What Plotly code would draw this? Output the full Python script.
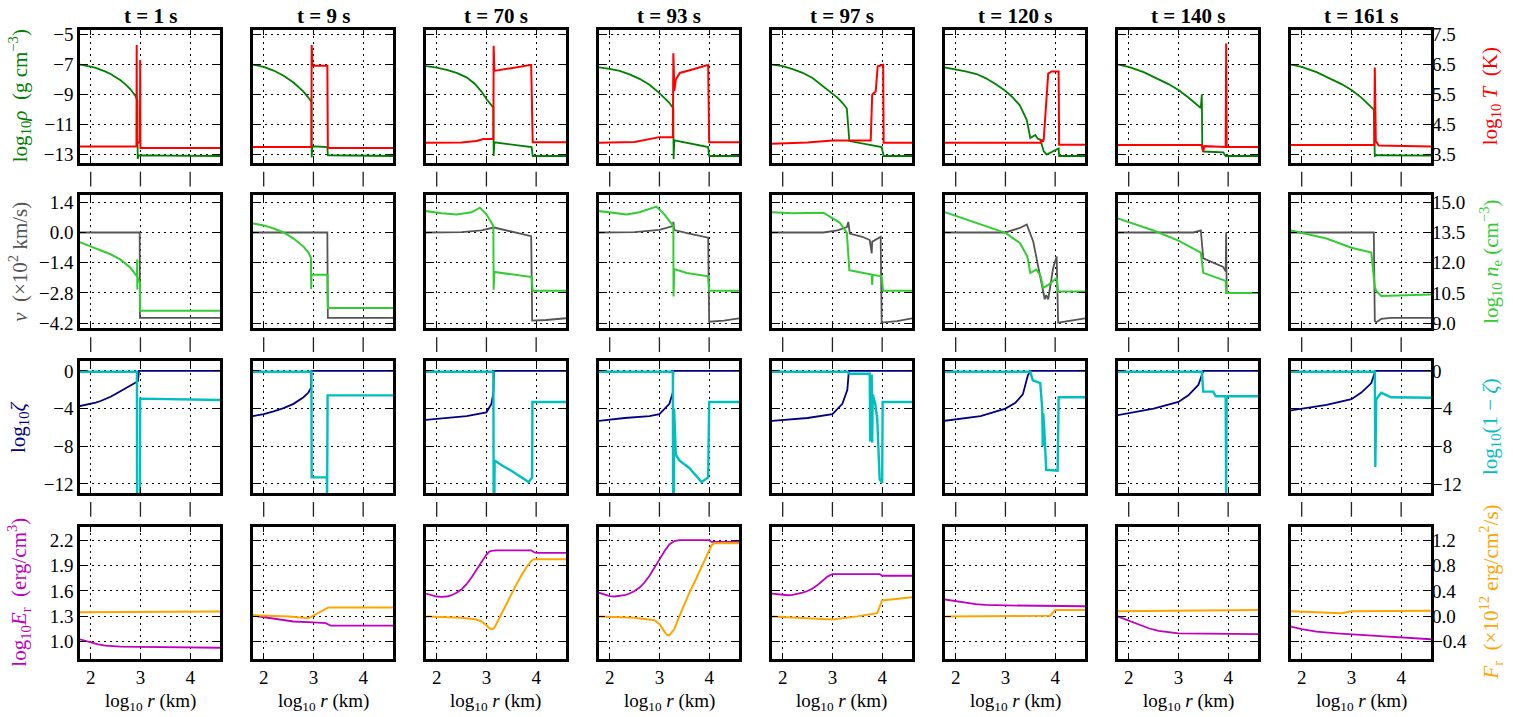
import plotly.graph_objects as go

# ---------------- data ----------------
times = ["1", "9", "70", "93", "97", "120", "140", "161"]

x_ticks = [2, 3, 4]
x_ticktext = ["2", "3", "4"]

rho_tv = [-5, -7, -9, -11, -13]
rho_tt = ["−5", "−7", "−9", "−11", "−13"]
T_tv = [3.5, 4.5, 5.5, 6.5, 7.5]
T_tt = ["3.5", "4.5", "5.5", "6.5", "7.5"]
v_tv = [1.4, 0.0, -1.4, -2.8, -4.2]
v_tt = ["1.4", "0.0", "−1.4", "−2.8", "−4.2"]
ne_tv = [9.0, 10.5, 12.0, 13.5, 15.0]
ne_tt = ["9.0", "10.5", "12.0", "13.5", "15.0"]
z_tv = [0, -4, -8, -12]
z_tt = ["0", "−4", "−8", "−12"]
E_tv = [1.0, 1.3, 1.6, 1.9, 2.2]
E_tt = ["1.0", "1.3", "1.6", "1.9", "2.2"]
F_tv = [-0.4, 0.0, 0.4, 0.8, 1.2]
F_tt = ["−0.4", "0.0", "0.4", "0.8", "1.2"]

# density log10 rho
rho_x = [
    [1.78, 1.9, 2.0, 2.1, 2.2, 2.3, 2.4, 2.5, 2.6, 2.7, 2.8, 2.9, 2.94, 2.945, 2.96, 3.5, 4.6],
    [1.78, 2.0, 2.2, 2.4, 2.6, 2.8, 2.9, 2.96, 2.965, 2.98, 3.28, 3.29, 4.6],
    [1.78, 2.0, 2.2, 2.4, 2.6, 2.77, 2.9, 3.0, 3.14, 3.145, 3.16, 3.5, 3.91, 3.93, 4.6],
    [1.78, 2.0, 2.2, 2.4, 2.6, 2.8, 3.0, 3.1, 3.2, 3.28, 3.285, 3.3, 3.6, 3.98, 4.0, 4.6],
    [1.78, 2.0, 2.2, 2.4, 2.6, 2.82, 3.0, 3.1, 3.2, 3.29, 3.34, 3.6, 3.8, 3.99, 4.03, 4.6],
    [1.78, 2.0, 2.2, 2.42, 2.6, 2.8, 2.99, 3.15, 3.29, 3.43, 3.5, 3.6, 3.65, 3.7, 3.77, 3.83, 4.07, 4.08, 4.6],
    [1.78, 2.0, 2.3, 2.6, 2.8, 3.0, 3.2, 3.45, 3.47, 3.48, 3.5, 3.9, 3.95, 4.6],
    [1.78, 2.0, 2.3, 2.6, 2.8, 3.0, 3.2, 3.45, 3.47, 3.5, 4.6],
]
rho_y = [
    [-7.0, -7.06, -7.13, -7.22, -7.33, -7.47, -7.63, -7.82, -8.05, -8.32, -8.65, -9.1, -9.4, -13.3, -13.05, -13.08, -13.1],
    [-7.0, -7.15, -7.4, -7.75, -8.2, -8.8, -9.2, -9.5, -13.2, -12.45, -12.5, -13.05, -13.1],
    [-7.1, -7.2, -7.35, -7.55, -7.85, -8.29, -8.8, -9.3, -9.87, -13.1, -12.19, -12.33, -12.5, -13.1, -13.1],
    [-7.19, -7.28, -7.42, -7.65, -7.95, -8.35, -8.9, -9.2, -9.55, -9.93, -13.3, -12.06, -12.25, -12.5, -13.1, -13.1],
    [-7.0, -7.1, -7.3, -7.55, -7.9, -8.5, -8.95, -9.2, -9.55, -9.93, -12.1, -12.25, -12.4, -12.5, -13.1, -13.1],
    [-7.19, -7.3, -7.45, -7.63, -7.9, -8.3, -8.73, -9.2, -9.72, -10.7, -11.9, -11.7, -11.95, -12.0, -12.78, -13.0, -12.6, -13.1, -13.1],
    [-7.0, -7.15, -7.5, -7.95, -8.3, -8.7, -9.2, -9.9, -9.0, -12.6, -12.8, -12.85, -13.1, -13.1],
    [-7.0, -7.15, -7.5, -7.95, -8.3, -8.7, -9.2, -10.0, -13.1, -13.05, -13.07],
]

# temperature log10 T
T_x = [
    [1.78, 2.92, 2.925, 2.93, 2.99, 2.995, 3.0, 4.6],
    [1.78, 2.96, 2.965, 2.98, 3.28, 3.29, 4.6],
    [1.78, 2.5, 2.8, 2.94, 3.14, 3.145, 3.16, 3.9, 3.93, 4.6],
    [1.78, 2.5, 3.0, 3.27, 3.28, 3.3, 3.33, 3.41, 3.7, 3.98, 4.0, 4.6],
    [1.78, 2.5, 3.0, 3.33, 3.77, 3.8, 3.87, 3.91, 4.02, 4.03, 4.6],
    [1.78, 3.71, 3.73, 3.75, 3.77, 3.83, 3.85, 3.86, 3.93, 4.07, 4.08, 4.6],
    [1.78, 3.47, 3.5, 3.52, 3.95, 3.96, 3.97, 4.6],
    [1.78, 3.46, 3.47, 3.49, 3.55, 4.6],
]
T_y = [
    [3.77, 3.77, 7.15, 3.9, 3.9, 6.65, 3.72, 3.72],
    [3.75, 3.75, 7.15, 6.46, 6.46, 3.72, 3.72],
    [3.89, 3.9, 3.95, 4.02, 4.02, 7.13, 6.29, 6.49, 3.91, 3.91],
    [3.89, 3.92, 4.08, 4.08, 6.88, 5.62, 6.0, 6.22, 6.35, 6.49, 3.91, 3.91],
    [3.86, 3.9, 3.97, 3.98, 3.97, 5.5, 5.6, 6.44, 6.49, 3.89, 3.89],
    [3.89, 3.89, 4.0, 3.92, 4.0, 5.45, 5.6, 6.2, 6.27, 6.27, 3.83, 3.83],
    [3.82, 3.82, 3.6, 3.78, 3.75, 7.2, 3.75, 3.75],
    [3.82, 3.82, 6.4, 3.95, 3.8, 3.77],
]

# velocity (x 10^2 km/s)
v_x = [
    [1.78, 2.985, 2.99, 4.6],
    [1.78, 2.9, 3.28, 3.29, 4.6],
    [1.78, 2.5, 2.9, 3.15, 3.9, 3.92, 4.2, 4.6],
    [1.78, 2.5, 3.0, 3.27, 3.28, 3.3, 3.6, 3.98, 4.0, 4.3, 4.6],
    [1.78, 2.82, 3.1, 3.29, 3.32, 3.35, 3.6, 3.75, 3.79, 3.8, 3.82, 3.97, 3.99, 4.3, 4.6],
    [1.78, 3.0, 3.29, 3.43, 3.56, 3.7, 3.79, 3.82, 3.86, 3.96, 4.03, 4.06, 4.6],
    [1.78, 3.3, 3.45, 3.47, 3.5, 3.9, 3.95, 3.96, 3.97, 4.6],
    [1.78, 3.45, 3.47, 3.5, 3.6, 3.8, 4.6],
]
v_y = [
    [0.0, 0.0, -3.95, -3.95],
    [0.0, 0.0, 0.0, -3.95, -3.95],
    [0.0, 0.02, 0.1, 0.23, -0.17, -4.08, -4.05, -3.97],
    [0.0, 0.02, 0.12, 0.3, 0.49, 0.11, -0.05, -0.24, -4.13, -4.08, -3.97],
    [0.0, 0.0, 0.1, 0.25, 0.49, -0.05, -0.2, -0.35, -0.97, -0.42, -0.4, -0.2, -4.17, -4.1, -3.97],
    [0.0, 0.0, 0.21, 0.37, -0.43, -1.95, -3.09, -2.9, -3.09, -1.64, -1.11, -4.17, -3.97],
    [0.0, 0.0, 0.1, -0.5, -1.2, -1.6, -1.8, 0.0, -2.8, -2.8],
    [0.0, 0.0, -4.1, -4.15, -4.0, -3.95, -3.95],
]

# electron density log10 n_e
ne_x = [
    [1.78, 2.0, 2.2, 2.4, 2.6, 2.8, 2.93, 2.935, 2.937, 2.94, 2.99, 2.995, 4.6],
    [1.78, 2.0, 2.2, 2.4, 2.6, 2.8, 2.9, 2.95, 2.955, 2.96, 2.98, 3.28, 3.29, 4.6],
    [1.78, 2.1, 2.4, 2.7, 2.87, 3.0, 3.14, 3.145, 3.16, 3.5, 3.91, 3.93, 4.6],
    [1.78, 2.34, 2.6, 2.94, 3.1, 3.28, 3.283, 3.3, 3.55, 3.98, 4.0, 4.6],
    [1.78, 2.2, 2.82, 3.15, 3.29, 3.34, 3.6, 3.79, 3.8, 3.81, 3.99, 4.02, 4.6],
    [1.78, 2.42, 3.0, 3.29, 3.44, 3.5, 3.62, 3.7, 3.76, 3.86, 4.03, 4.06, 4.6],
    [1.78, 2.5, 3.0, 3.45, 3.5, 3.95, 3.96, 4.6],
    [1.78, 2.5, 3.0, 3.4, 3.47, 3.5, 3.6, 4.6],
]
ne_y = [
    [13.02, 12.8, 12.62, 12.42, 12.15, 11.75, 11.33, 12.16, 10.67, 11.3, 11.0, 9.62, 9.62],
    [13.95, 13.85, 13.7, 13.5, 13.2, 12.8, 12.5, 12.25, 10.7, 11.4, 11.4, 11.4, 9.75, 9.75],
    [14.56, 14.45, 14.39, 14.5, 14.73, 14.4, 13.82, 10.66, 11.54, 11.42, 11.29, 10.61, 10.61],
    [14.56, 14.39, 14.5, 14.78, 14.4, 13.82, 10.33, 11.69, 11.49, 11.33, 10.61, 10.61],
    [14.5, 14.45, 14.48, 13.98, 13.48, 11.63, 11.5, 11.41, 10.9, 11.4, 11.33, 10.61, 10.61],
    [14.51, 13.98, 13.48, 12.98, 12.32, 11.49, 11.66, 11.4, 10.75, 10.9, 11.24, 10.58, 10.58],
    [14.2, 13.6, 13.1, 12.5, 11.5, 11.1, 10.5, 10.5],
    [13.6, 13.2, 12.74, 12.5, 10.8, 10.6, 10.35, 10.42],
]

# ionisation log10 zeta
z_x = [
    [1.78, 1.9, 2.0, 2.1, 2.2, 2.3, 2.4, 2.5, 2.6, 2.7, 2.8, 2.9, 2.95, 2.96, 2.97, 4.6],
    [1.78, 2.0, 2.2, 2.4, 2.6, 2.8, 2.9, 2.95, 2.96, 4.6],
    [1.78, 2.2, 2.6, 3.0, 3.1, 3.14, 3.15, 4.6],
    [1.78, 2.3, 2.8, 3.0, 3.2, 3.27, 3.28, 4.6],
    [1.78, 2.5, 3.0, 3.2, 3.3, 3.33, 4.6],
    [1.78, 2.5, 3.0, 3.2, 3.35, 3.45, 3.5, 4.6],
    [1.78, 2.5, 3.0, 3.2, 3.4, 3.47, 3.5, 4.6],
    [1.78, 2.5, 3.0, 3.2, 3.4, 3.47, 3.48, 4.6],
]
z_y = [
    [-3.73, -3.62, -3.5, -3.36, -3.2, -3.0, -2.75, -2.45, -2.15, -1.85, -1.55, -1.25, -1.1, -0.6, 0.0, 0.0],
    [-4.8, -4.6, -4.3, -3.95, -3.5, -2.8, -2.3, -1.8, 0.0, 0.0],
    [-5.2, -5.0, -4.8, -4.4, -3.5, -2.3, 0.0, 0.0],
    [-5.3, -5.0, -4.8, -4.6, -3.5, -2.3, 0.0, 0.0],
    [-5.3, -5.0, -4.6, -3.5, -2.0, 0.0, 0.0],
    [-5.3, -4.8, -4.0, -3.4, -2.5, -0.5, 0.0, 0.0],
    [-4.7, -4.0, -3.3, -2.6, -1.5, -0.5, 0.0, 0.0],
    [-4.2, -3.6, -3.0, -2.3, -1.3, -0.3, 0.0, 0.0],
]

# log10(1 - zeta)
nz_x = [
    [1.78, 2.93, 2.932, 2.99, 2.995, 4.6],
    [1.78, 2.96, 2.965, 3.27, 3.275, 3.28, 3.285, 4.6],
    [1.78, 3.14, 3.145, 3.16, 3.165, 3.3, 3.5, 3.7, 3.85, 3.92, 3.925, 4.6],
    [1.78, 3.27, 3.275, 3.29, 3.295, 3.33, 3.4, 3.6, 3.85, 3.98, 4.0, 4.6],
    [1.78, 3.3, 3.35, 3.75, 3.76, 3.77, 3.79, 3.8, 3.81, 3.86, 3.9, 3.95, 4.0, 4.01, 4.6],
    [1.78, 3.5, 3.55, 3.7, 3.74, 3.75, 3.76, 3.78, 3.82, 4.05, 4.07, 4.6],
    [1.78, 3.47, 3.5, 3.7, 3.75, 3.95, 3.96, 3.97, 4.6],
    [1.78, 3.47, 3.48, 3.49, 3.5, 3.6, 3.8, 4.6],
]
nz_y = [
    [-0.1, -0.1, -13.5, -13.5, -2.95, -3.1],
    [-0.1, -0.1, -11.3, -11.3, -13.5, -2.6, -2.6, -2.6],
    [-0.1, -0.1, -13.5, -13.5, -9.5, -10.0, -10.6, -11.3, -11.8, -11.3, -3.3, -3.3],
    [-0.1, -0.1, -13.5, -13.5, -4.0, -8.9, -9.5, -10.3, -11.8, -11.3, -3.3, -3.3],
    [-0.1, -0.1, -0.3, -0.3, -7.5, -0.5, -0.5, -7.6, -2.5, -3.5, -5.0, -11.5, -11.9, -3.3, -3.3],
    [-0.1, -0.1, -1.0, -1.3, -4.0, -8.0, -4.5, -6.0, -10.5, -10.6, -2.8, -2.8],
    [-0.1, -0.1, -2.2, -2.2, -2.7, -2.7, -13.5, -2.7, -2.7],
    [-0.1, -0.1, -10.2, -3.7, -3.0, -2.33, -2.8, -2.86],
]

# radiation energy density log10 E_r
E_x = [
    [1.78, 1.9, 2.0, 2.15, 2.3, 2.45, 2.6, 3.0, 4.6],
    [1.78, 2.0, 2.2, 2.4, 2.6, 3.0, 3.25, 3.35, 4.6],
    [1.78, 1.9, 2.0, 2.1, 2.2, 2.3, 2.4, 2.5, 2.6, 2.7, 2.8, 2.9, 3.0, 3.05, 3.1, 3.2, 3.9, 3.95, 4.0, 4.6],
    [1.78, 1.9, 2.0, 2.1, 2.2, 2.3, 2.4, 2.5, 2.6, 2.7, 2.8, 2.9, 3.0, 3.1, 3.2, 3.3, 3.4, 4.0, 4.05, 4.6],
    [1.78, 1.9, 2.0, 2.1, 2.2, 2.3, 2.4, 2.5, 2.6, 2.7, 2.8, 2.9, 3.0, 3.1, 3.95, 4.0, 4.6],
    [1.78, 2.0, 2.2, 2.4, 2.6, 3.0, 4.6],
    [1.78, 2.0, 2.2, 2.4, 2.6, 3.0, 4.6],
    [1.78, 2.0, 2.3, 2.7, 3.5, 4.6],
]
E_y = [
    [1.03, 1.01, 0.99, 0.97, 0.955, 0.947, 0.943, 0.94, 0.93],
    [1.31, 1.29, 1.27, 1.25, 1.24, 1.23, 1.22, 1.19, 1.19],
    [1.57, 1.55, 1.535, 1.53, 1.535, 1.55, 1.58, 1.62, 1.68, 1.76, 1.85, 1.95, 2.03, 2.06, 2.075, 2.08, 2.08, 2.06, 2.05, 2.05],
    [1.58, 1.56, 1.54, 1.535, 1.54, 1.55, 1.57, 1.6, 1.64, 1.7, 1.78, 1.87, 1.97, 2.07, 2.15, 2.19, 2.2, 2.2, 2.18, 2.18],
    [1.57, 1.56, 1.55, 1.55, 1.555, 1.565, 1.58, 1.6, 1.63, 1.67, 1.72, 1.77, 1.8, 1.8, 1.8, 1.78, 1.78],
    [1.5, 1.48, 1.46, 1.445, 1.435, 1.43, 1.42],
    [1.3, 1.25, 1.2, 1.16, 1.13, 1.1, 1.09],
    [1.18, 1.15, 1.12, 1.1, 1.07, 1.03],
]

# radiation flux F_r (x 10^12 erg/cm^2/s)
F_x = [
    [1.78, 3.0, 4.6],
    [1.78, 2.5, 2.9, 3.1, 3.3, 4.6],
    [1.78, 2.5, 2.8, 2.9, 3.0, 3.05, 3.1, 3.15, 3.2, 3.3, 3.4, 3.5, 3.6, 3.7, 3.8, 3.9, 3.95, 4.0, 4.6],
    [1.78, 2.5, 2.9, 3.0, 3.1, 3.15, 3.2, 3.3, 3.4, 3.5, 3.6, 3.7, 3.8, 3.9, 4.0, 4.05, 4.1, 4.6],
    [1.78, 2.5, 3.0, 3.5, 3.9, 4.0, 4.6],
    [1.78, 3.0, 3.9, 4.0, 4.6],
    [1.78, 3.0, 4.6],
    [1.78, 2.8, 3.0, 4.6],
]
F_y = [
    [0.065, 0.065, 0.075],
    [0.02, 0.0, -0.03, 0.05, 0.14, 0.14],
    [0.0, -0.02, -0.05, -0.08, -0.14, -0.18, -0.2, -0.19, -0.12, 0.04, 0.2, 0.35, 0.5, 0.64, 0.77, 0.87, 0.9, 0.9, 0.9],
    [0.0, -0.02, -0.06, -0.12, -0.24, -0.29, -0.3, -0.2, 0.0, 0.2, 0.37, 0.53, 0.7, 0.88, 1.05, 1.12, 1.15, 1.15],
    [0.0, -0.03, -0.05, 0.0, 0.05, 0.25, 0.3],
    [0.0, 0.0, 0.01, 0.1, 0.1],
    [0.08, 0.09, 0.1],
    [0.08, 0.05, 0.08, 0.09],
]

# ---------------- styling / layout ----------------
W, H = 1513, 717
FONT = "Liberation Serif"
XR = [1.785, 4.6]
TICKSIZE = 19

rows = [
    dict(left=(rho_x, rho_y, "#008000"), right=(T_x, T_y, "#ff0000"),
         lr=[-13.55, -4.67], rr=[3.225, 7.665],
         ltv=rho_tv, ltt=rho_tt, rtv=T_tv, rtt=T_tt,
         ltitle="log<sub>10</sub><i>ρ</i>  (g cm<sup>−3</sup>)", lcol="#008000",
         rtitle="log<sub>10</sub> <i>T</i>  (K)", rcol="#ff0000",
         px=(25, 160)),
    dict(left=(v_x, v_y, "#555555"), right=(ne_x, ne_y, "#33cc33"),
         lr=[-4.44, 1.72], rr=[8.743, 15.343],
         ltv=v_tv, ltt=v_tt, rtv=ne_tv, rtt=ne_tt,
         ltitle="<i>v</i>  (×10<sup>2</sup> km/s)", lcol="#555555",
         rtitle="log<sub>10</sub> <i>n</i><sub>e</sub> (cm<sup>−3</sup>)", rcol="#33cc33",
         px=(193, 328)),
    dict(left=(z_x, z_y, "#000080"), right=(nz_x, nz_y, "#00bfbf"),
         lr=[-12.97, 1.05], rr=[-12.97, 1.05],
         ltv=z_tv, ltt=z_tt, rtv=z_tv, rtt=z_tt,
         ltitle="log<sub>10</sub><i>ζ</i>", lcol="#000080",
         rtitle="log<sub>10</sub>(1 − <i>ζ</i>)", rcol="#00bfbf",
         px=(361, 495)),
    dict(left=(E_x, E_y, "#bf00bf"), right=(F_x, F_y, "#ffa500"),
         lr=[0.80, 2.36], rr=[-0.667, 1.413],
         ltv=E_tv, ltt=E_tt, rtv=F_tv, rtt=F_tt,
         ltitle="log<sub>10</sub><i>E</i><sub>r</sub>  (erg/cm<sup>3</sup>)", lcol="#bf00bf",
         rtitle="<i>F</i><sub>r</sub>  (×10<sup>12</sup> erg/cm<sup>2</sup>/s)", rcol="#ffa500",
         px=(529, 663)),
]

layout = dict(
    width=W, height=H, autosize=False,
    margin=dict(l=0, r=0, t=0, b=0),
    plot_bgcolor="white", paper_bgcolor="white",
    showlegend=False,
    font=dict(family=FONT, size=TICKSIZE, color="black"),
)
traces = []
annotations = []
shapes = []

def ref(kind, n):
    return kind if n == 1 else f"{kind}{n}"

for r, R in enumerate(rows):
    top, bot = R["px"]
    ydom = [1 - bot / H, 1 - top / H]
    for c in range(8):
        k = r * 8 + c + 1
        ly, ry = 2 * k - 1, 2 * k
        xref, lyref, ryref = ref("x", k), ref("y", ly), ref("y", ry)
        x0 = (80 + 173 * c) / W
        x1 = (220 + 173 * c) / W
        last_row = (r == 3)
        layout["xaxis" if k == 1 else f"xaxis{k}"] = dict(
            domain=[x0, x1], anchor=lyref, range=XR,
            tickmode="array", tickvals=x_ticks, ticktext=x_ticktext,
            showticklabels=last_row,
            tickfont=dict(family=FONT, size=TICKSIZE, color="black"),
            ticks="inside", ticklen=6, tickwidth=1, tickcolor="black",
            showline=True, linewidth=2.5, linecolor="black", mirror="ticks",
            showgrid=True, gridcolor="black", gridwidth=1, griddash="2px,4px",
            zeroline=False, fixedrange=True,
        )
        layout["yaxis" if ly == 1 else f"yaxis{ly}"] = dict(
            domain=ydom, anchor=xref, range=R["lr"],
            tickmode="array", tickvals=R["ltv"], ticktext=R["ltt"],
            showticklabels=(c == 0), tickfont=dict(family=FONT, size=TICKSIZE),
            ticks="inside", ticklen=6, tickwidth=1, tickcolor="black",
            showline=True, linewidth=2.5, linecolor="black", mirror="ticks",
            showgrid=True, gridcolor="black", gridwidth=1, griddash="2px,4px",
            zeroline=False, fixedrange=True,
        )
        layout[f"yaxis{ry}"] = dict(
            overlaying=lyref, side="right", anchor=xref, range=R["rr"],
            tickmode="array", tickvals=R["rtv"], ticktext=R["rtt"],
            showticklabels=(c == 7), tickfont=dict(family=FONT, size=TICKSIZE),
            ticks="", showline=False, showgrid=False, zeroline=False, fixedrange=True,
        )
        lx, lyv, lcol = R["left"]
        rx, ryv, rcol = R["right"]
        traces.append(go.Scatter(x=lx[c], y=lyv[c], xaxis=xref, yaxis=lyref, mode="lines",
                                 line=dict(color=lcol, width=1.8), hoverinfo="skip"))
        traces.append(go.Scatter(x=rx[c], y=ryv[c], xaxis=xref, yaxis=ryref, mode="lines",
                                 line=dict(color=rcol, width=2.0 if r != 2 else 2.4), hoverinfo="skip"))
        if not last_row:
            # small separator marks between stacked rows, at the x tick positions
            for t in x_ticks:
                shapes.append(dict(type="line", xref=xref, yref="paper", x0=t, x1=t,
                                   y0=1 - (bot + 9) / H, y1=1 - (bot + 24) / H,
                                   line=dict(color="#222", width=1.3)))
        if r == 0:
            annotations.append(dict(text=f"<b>t = {times[c]} s</b>", x=(150 + 173 * c) / W, y=1 - 11 / H,
                                    xref="paper", yref="paper", showarrow=False,
                                    xanchor="center", yanchor="middle",
                                    font=dict(family=FONT, size=21, color="black")))
        if r == 3:
            annotations.append(dict(text="log<sub>10</sub> <i>r</i> (km)", x=(150 + 173 * c) / W, y=1 - 707 / H,
                                    xref="paper", yref="paper", showarrow=False,
                                    xanchor="center", yanchor="middle",
                                    font=dict(family=FONT, size=19, color="black")))
    ymid = 1 - (top + bot) / 2 / H
    annotations.append(dict(text=R["ltitle"], x=19 / W, y=ymid, xref="paper", yref="paper",
                            showarrow=False, textangle=-90, xanchor="center", yanchor="middle",
                            font=dict(family=FONT, size=21, color=R["lcol"])))
    annotations.append(dict(text=R["rtitle"], x=1491 / W, y=ymid, xref="paper", yref="paper",
                            showarrow=False, textangle=-90, xanchor="center", yanchor="middle",
                            font=dict(family=FONT, size=21, color=R["rcol"])))

layout["annotations"] = annotations
layout["shapes"] = shapes
fig = go.Figure(data=traces, layout=layout)
fig.write_html("out.html")
